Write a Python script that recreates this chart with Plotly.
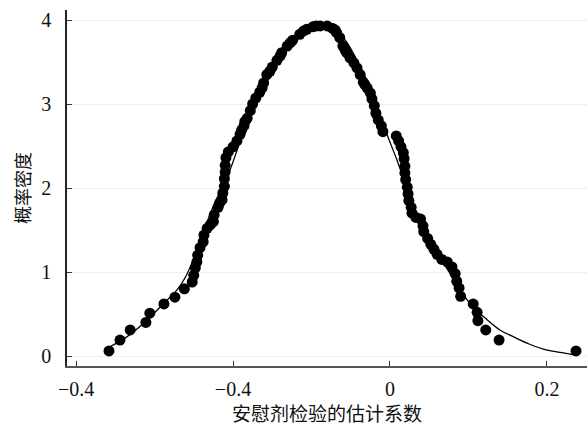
import plotly.graph_objects as go

# Placebo-test estimated coefficients (x) and their kernel density (y)
dot_x = [-0.358, -0.344, -0.331, -0.311, -0.306, -0.288, -0.274, -0.262, -0.252, -0.250,
         -0.248, -0.246, -0.245, -0.242, -0.238, -0.237, -0.233, -0.229, -0.225, -0.224,
         -0.219, -0.217, -0.214, -0.213, -0.211, -0.211, -0.210, -0.210, -0.209, -0.206,
         -0.200, -0.195, -0.191, -0.189, -0.186, -0.185, -0.182, -0.178, -0.175, -0.171,
         -0.166, -0.163, -0.161, -0.157, -0.153, -0.150, -0.144, -0.140, -0.138, -0.131,
         -0.127, -0.124, -0.115, -0.110, -0.106, -0.098, -0.094, -0.089, -0.080, -0.073,
         -0.070, -0.068, -0.064, -0.060, -0.057, -0.055, -0.051, -0.046, -0.042, -0.038,
         -0.034, -0.032, -0.029, -0.025, -0.023, -0.020, -0.018, -0.015, -0.011, -0.009,
         0.008, 0.011, 0.014, 0.017, 0.018, 0.019, 0.019, 0.020, 0.022, 0.023,
         0.024, 0.027, 0.028, 0.033, 0.039, 0.042, 0.043, 0.048, 0.052, 0.056,
         0.060, 0.066, 0.073, 0.079, 0.083, 0.085, 0.088, 0.090, 0.106, 0.111,
         0.112, 0.122, 0.139, 0.237]
dot_y = [0.06, 0.19, 0.31, 0.40, 0.51, 0.62, 0.70, 0.80, 0.88, 0.96,
         1.05, 1.12, 1.20, 1.29, 1.36, 1.44, 1.52, 1.56, 1.60, 1.68,
         1.77, 1.82, 1.86, 1.94, 2.02, 2.11, 2.19, 2.27, 2.36, 2.43,
         2.49, 2.56, 2.64, 2.69, 2.74, 2.79, 2.83, 2.92, 3.00, 3.07,
         3.14, 3.19, 3.25, 3.35, 3.39, 3.44, 3.52, 3.57, 3.61, 3.69,
         3.73, 3.76, 3.83, 3.87, 3.89, 3.92, 3.93, 3.93, 3.93, 3.90,
         3.88, 3.85, 3.79, 3.69, 3.64, 3.61, 3.55, 3.49, 3.43, 3.35,
         3.26, 3.23, 3.19, 3.13, 3.06, 2.98, 2.89, 2.81, 2.74, 2.67,
         2.62, 2.56, 2.49, 2.42, 2.35, 2.26, 2.18, 2.10, 2.01, 1.93,
         1.85, 1.77, 1.70, 1.65, 1.63, 1.55, 1.48, 1.40, 1.33, 1.27,
         1.21, 1.15, 1.12, 1.06, 0.98, 0.89, 0.81, 0.71, 0.62, 0.52,
         0.42, 0.31, 0.19, 0.06]

# Smooth reference density curve
curve_x = [-0.357, -0.338, -0.315, -0.289, -0.271, -0.260, -0.251, -0.243, -0.236, -0.227,
           -0.217, -0.204, -0.191, -0.178, -0.166, -0.150, -0.134, -0.115, -0.098, -0.087,
           -0.074, -0.057, -0.041, -0.025, -0.006, 0.009, 0.022, 0.034, 0.051, 0.070,
           0.089, 0.106, 0.124, 0.140, 0.157, 0.178, 0.200, 0.219, 0.237]
curve_y = [0.11, 0.21, 0.38, 0.62, 0.79, 0.95, 1.14, 1.32, 1.52, 1.74,
           1.95, 2.21, 2.55, 2.85, 3.11, 3.37, 3.61, 3.80, 3.89, 3.92,
           3.90, 3.76, 3.50, 3.19, 2.69, 2.33, 1.98, 1.64, 1.32, 1.08,
           0.79, 0.58, 0.43, 0.31, 0.23, 0.14, 0.07, 0.04, 0.01]

x_tickvals = [-0.4, -0.2, 0, 0.2]
x_ticktext = ["\u22120.4", "\u22120.4", "0", "0.2"]
y_tickvals = [0, 1, 2, 3, 4]
y_ticktext = ["0", "1", "2", "3", "4"]

x_title = "安慰剂检验的估计系数"
y_title = "概率密度"

serif = "Liberation Serif, Times New Roman, serif"
cjk = "Noto Sans CJK SC"

fig = go.Figure()
fig.add_trace(go.Scatter(x=curve_x, y=curve_y, mode="lines",
                         line=dict(color="black", width=1.3, shape="spline"),
                         hoverinfo="skip", cliponaxis=True))
fig.add_trace(go.Scatter(x=dot_x, y=dot_y, mode="markers", cliponaxis=False,
                         marker=dict(color="black", size=11, line=dict(width=0))))

fig.update_layout(
    width=587, height=426,
    margin=dict(l=67, r=0, t=10, b=60, autoexpand=False),
    paper_bgcolor="white", plot_bgcolor="white",
    showlegend=False,
    xaxis=dict(range=[-0.4115, 0.251], tickvals=x_tickvals, ticktext=x_ticktext,
               automargin=False,
               ticks="inside", ticklen=5, tickcolor="#333", tickwidth=1,
               showline=True, linecolor="#555", linewidth=2,
               showgrid=False, zeroline=False,
               tickfont=dict(family=serif, size=20, color="#111"),
               ticklabelstandoff=4,
               title=dict(text=x_title, font=dict(family=cjk, size=19, color="#111"),
                          standoff=8)),
    yaxis=dict(range=[-0.119, 4.119], tickvals=y_tickvals, ticktext=y_ticktext,
               automargin=False,
               ticks="inside", ticklen=5, tickcolor="#333", tickwidth=1,
               showline=True, linecolor="#222", linewidth=1.5,
               showgrid=True, gridcolor="#eeeeee", gridwidth=1, zeroline=False,
               tickfont=dict(family=serif, size=20, color="#111"),
               ticklabelstandoff=10,
               title=dict(text=y_title, font=dict(family=cjk, size=18, color="#111"),
                          standoff=6)),
)

fig.write_html("out.html", config={"displayModeBar": False},
               post_script="document.body.style.margin='0';document.body.style.padding='0';")
